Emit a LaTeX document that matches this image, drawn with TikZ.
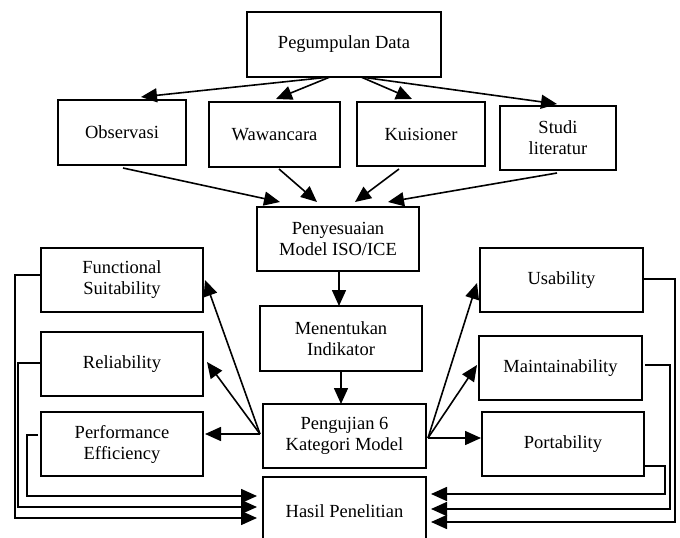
\documentclass[tikz,border=0pt]{standalone}
\usepackage{fontspec}
\setmainfont{Liberation Serif}
\usetikzlibrary{arrows.meta,calc}
\begin{document}
\begin{tikzpicture}[x=1pt,y=-1pt,
  box/.style={draw=black,line width=1.7pt,inner sep=0pt,outer sep=0pt,align=center,
    font=\fontsize{18.5}{21}\selectfont},
  arr/.style={line width=1.6pt,-{Triangle[length=16pt,width=14pt]}},
  ln/.style={line width=1.6pt}]
\useasboundingbox[fill=white] (0,0) rectangle (680,538);
% top part
\node[box,minimum width=194pt,minimum height=65pt] (pd) at (344,44.5) {Pegumpulan Data};
\node[box,minimum width=128pt,minimum height=65pt] (obs) at (122,132.5) {Observasi};
\node[box,minimum width=131pt,minimum height=65pt] (waw) at (274.5,134.5) {Wawancara};
\node[box,minimum width=128pt,minimum height=64pt] (kui) at (421,134) {Kuisioner};
\node[box,minimum width=116pt,minimum height=64pt] (stu) at (558,138) {Studi\\literatur};
% middle column
\node[box,minimum width=162pt,minimum height=64pt] (pen) at (338,239) {Penyesuaian\\Model ISO/ICE};
\node[box,minimum width=162pt,minimum height=65pt] (men) at (341,338.5) {Menentukan\\Indikator};
\node[box,minimum width=163pt,minimum height=64pt] (pgj) at (344.5,436) {Pengujian 6\\Kategori Model};
\node[box,minimum width=163pt,minimum height=68pt] (has) at (344.5,511) {Hasil Penelitian};
% left column
\node[box,minimum width=162pt,minimum height=64pt] (fs) at (122,280) {Functional\\Suitability};
\node[box,minimum width=162pt,minimum height=64pt] (rel) at (122,364) {Reliability};
\node[box,minimum width=162pt,minimum height=64pt] (pe) at (122,444) {Performance\\Efficiency};
% right column
\node[box,minimum width=163pt,minimum height=64pt] (usa) at (561.5,280) {Usability};
\node[box,minimum width=163pt,minimum height=64pt] (mai) at (560.5,368) {Maintainability};
\node[box,minimum width=162pt,minimum height=64pt] (por) at (563,444) {Portability};
% arrows from Pegumpulan Data
\draw[arr] ($(pd.south)+(-14,0)$) -- ($(obs.north)+(19,-3)$);
\draw[arr] ($(pd.south)+(-14,0)$) -- ($(waw.north)+(1.5,-3)$);
\draw[arr] ($(pd.south)+(17,0)$) -- ($(kui.north)+(-9,-3)$);
\draw[arr] ($(pd.south)+(17,0)$) -- ($(stu.north)+(-1,-2)$);
% arrows into Penyesuaian
\draw[arr] ($(obs.south)+(1,3)$) -- ($(pen.north)+(-58,-5)$);
\draw[arr] ($(waw.south)+(4.5,2)$) -- ($(pen.north)+(-21,-5)$);
\draw[arr] ($(kui.south)+(-22,3)$) -- ($(pen.north)+(17,-5)$);
\draw[arr] ($(stu.south)+(-1,3)$) -- ($(pen.north)+(50,-5)$);
% vertical chain
\draw[arr] ($(pen.south)+(1,0)$) -- ($(men.north)+(-2,0)$);
\draw[arr] (men.south) -- ($(pgj.north)+(-3.5,0)$);
% fan out from Pengujian
\coordinate (pl) at ($(pgj.west)+(-3,-2)$);
\coordinate (pr) at ($(pgj.east)+(2,2)$);
\draw[arr] (pl) -- ($(fs.east)+(2,0)$);
\draw[arr] (pl) -- ($(rel.east)+(4,-2)$);
\draw[arr] (pl) -- ($(pe.east)+(2,-10)$);
\draw[arr] (pr) -- ($(usa.west)+(-3,3)$);
\draw[arr] (pr) -- ($(mai.west)+(-2,-3)$);
\draw[arr] (pr) -- ($(por.west)+(-1,-6)$);
% feedback to Hasil Penelitian (left)
\draw[arr] ($(fs.west)+(0,-5)$) -- ++(-26,0) |- ($(has.west)+(-6,7)$);
\draw[arr] ($(rel.west)+(0,-1)$) -- ++(-23,0) |- ($(has.west)+(-6,-4)$);
\draw[arr] ($(pe.west)+(-3,-9)$) -- ++(-11,0) |- ($(has.west)+(-6,-15)$);
% feedback to Hasil Penelitian (right)
\draw[arr] ($(usa.east)+(0,-1)$) -- ++(32,0) |- ($(has.east)+(5,11)$);
\draw[arr] ($(mai.east)+(3,-3)$) -- ++(25,0) |- ($(has.east)+(5,-2)$);
\draw[arr] ($(por.east)+(0,22)$) -- ++(21,0) |- ($(has.east)+(5,-17)$);
\end{tikzpicture}
\end{document}
